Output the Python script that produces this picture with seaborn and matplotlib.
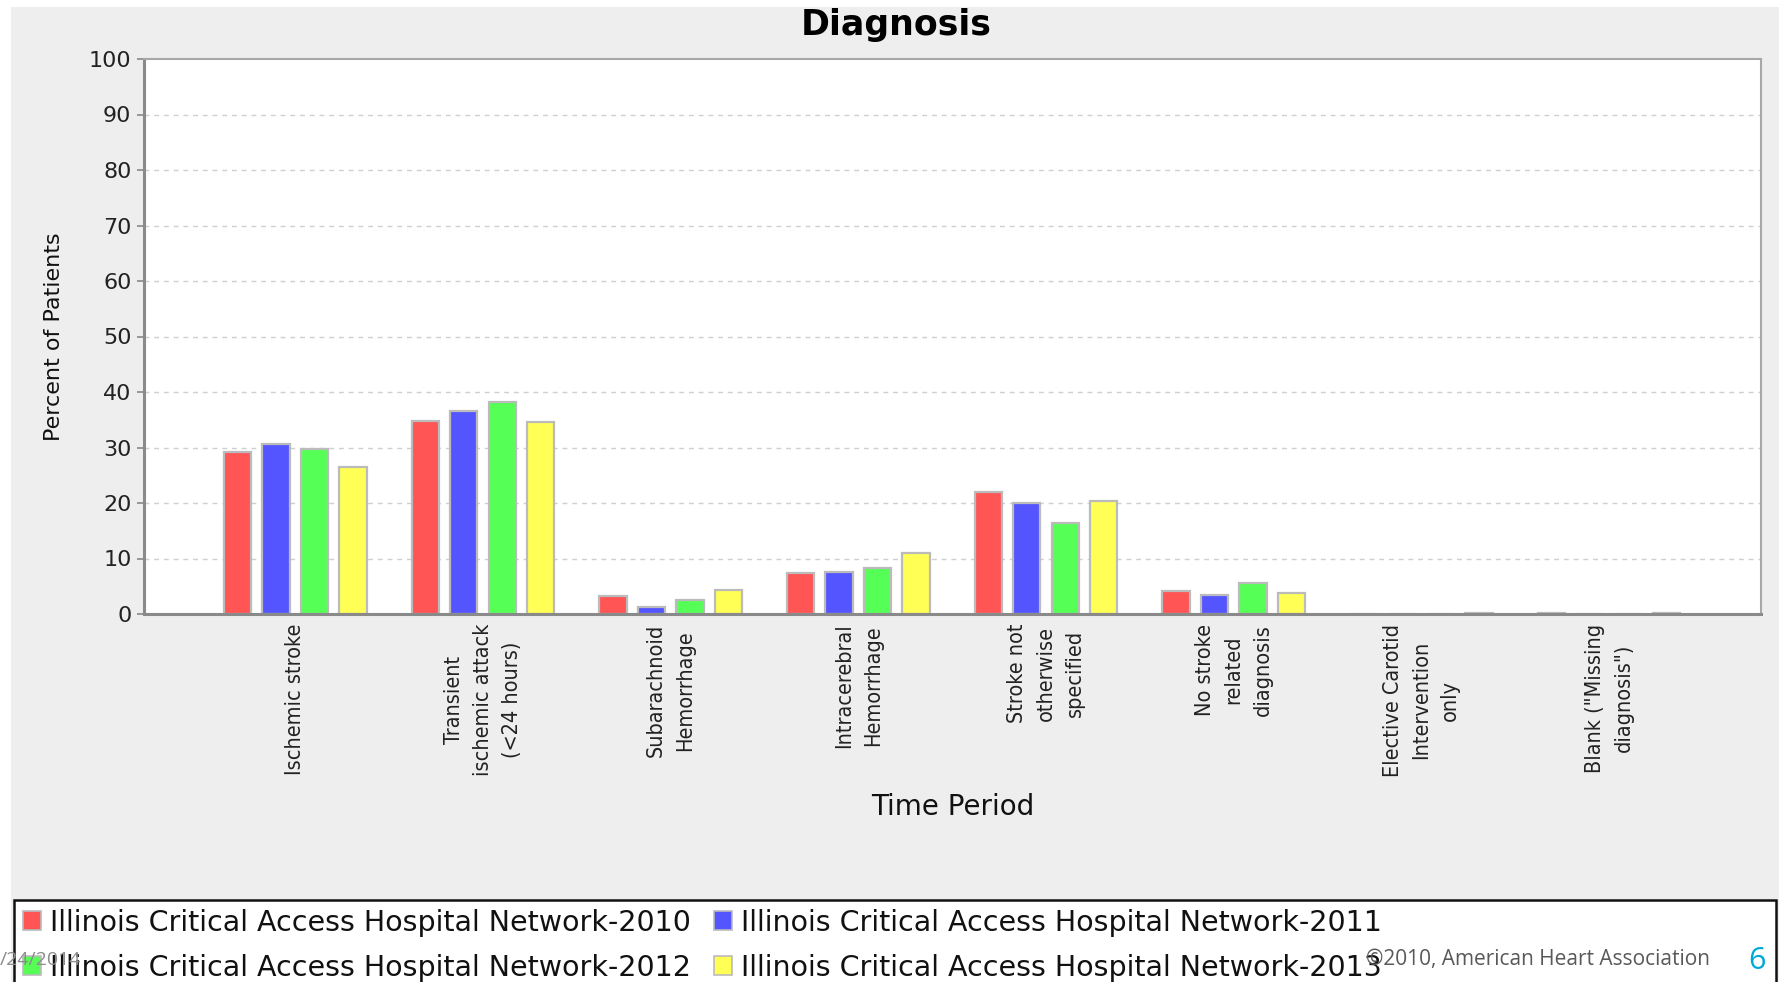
import matplotlib
matplotlib.use("Agg")
import matplotlib.pyplot as plt
from matplotlib.patches import Patch, Rectangle
from matplotlib import font_manager
import numpy as np
import pandas as pd
import seaborn as sns

# ---- data -------------------------------------------------------------
diagnoses = [
    "Ischemic stroke",
    "Transient\nischemic attack\n(<24 hours)",
    "Subarachnoid\nHemorrhage",
    "Intracerebral\nHemorrhage",
    "Stroke not\notherwise\nspecified",
    "No stroke\nrelated\ndiagnosis",
    "Elective Carotid\nIntervention\nonly",
    "Blank (\"Missing\ndiagnosis\")",
]
periods = [
    "Illinois Critical Access Hospital Network-2010",
    "Illinois Critical Access Hospital Network-2011",
    "Illinois Critical Access Hospital Network-2012",
    "Illinois Critical Access Hospital Network-2013",
]
pct_2010 = [29.2, 34.8, 3.3, 7.4, 21.9, 4.1, 0.0, 0.2]
pct_2011 = [30.7, 36.6, 1.2, 7.6, 20.0, 3.5, 0.0, 0.0]
pct_2012 = [29.7, 38.2, 2.5, 8.2, 16.4, 5.5, 0.0, 0.0]
pct_2013 = [26.4, 34.6, 4.3, 11.0, 20.4, 3.7, 0.2, 0.2]
y_ticks = list(range(0, 101, 10))

colors = ["#FF5555", "#5555FF", "#55FF55", "#FFFF55"]

rows = []
for period, vals in zip(periods, [pct_2010, pct_2011, pct_2012, pct_2013]):
    for d, v in zip(diagnoses, vals):
        rows.append({"diagnosis": d, "period": period, "percent": v})
df = pd.DataFrame(rows)

# ---- style ------------------------------------------------------------
sns.set_theme(style="white")
plt.rcParams["font.family"] = ["DejaVu Sans"]

# a narrower face for the category labels, if one is installed
tick_font = None
for fe in font_manager.fontManager.ttflist:
    fn = fe.fname.lower()
    if ("dejavusanscondensed.ttf" in fn) or ("liberationsansnarrow-regular" in fn):
        tick_font = fe.fname
        break

W, H = 1779, 982
fig = plt.figure(figsize=(W / 100, H / 100), dpi=100)
fig.patch.set_facecolor("white")
# light grey panel behind the chart
fig.patches.append(Rectangle((11 / W, 0), 1 - 11 / W, 1 - 7 / H,
                             transform=fig.transFigure, facecolor="#EEEEEE",
                             edgecolor="none", zorder=-10))

ax = fig.add_axes([144 / W, 1 - 614 / H, (1761 - 144) / W, (614 - 59) / H])
ax.set_facecolor("white")

sns.barplot(data=df, x="diagnosis", y="percent", hue="period",
            hue_order=periods, order=diagnoses, palette=colors,
            width=0.82, gap=0.29, edgecolor="#BBBBBB", linewidth=1.6,
            saturation=1, legend=False, ax=ax, zorder=3)

ax.set_ylim(0, 100)
ax.set_xlim(-0.806, 7.81)
ax.set_yticks(y_ticks)
ax.set_yticklabels([str(t) for t in y_ticks], fontsize=16, color="#222222")
ax.tick_params(axis="y", length=5, width=1.2, color="#888888", pad=4, left=True)
ax.tick_params(axis="x", length=0, pad=7)

for lbl in ax.get_xticklabels():
    lbl.set_rotation(90)
    lbl.set_multialignment("center")
    lbl.set_linespacing(1.55)
    lbl.set_color("#222222")
    if tick_font:
        lbl.set_fontproperties(font_manager.FontProperties(fname=tick_font, size=15.5))
    else:
        lbl.set_fontsize(14)

# dashed horizontal gridlines
for t in y_ticks[1:-1]:
    ax.axhline(t, color="#CFCFCF", linewidth=1.0, linestyle=(0, (3.5, 3.5)), zorder=1)

for side in ["top", "right"]:
    ax.spines[side].set_color("#A8A8A8")
    ax.spines[side].set_linewidth(1.5)
for side in ["left", "bottom"]:
    ax.spines[side].set_color("#8A8A8A")
    ax.spines[side].set_linewidth(2.2)
ax.spines["bottom"].set_zorder(5)

ax.set_xlabel("Time Period", fontsize=20, color="#111111")
ax.xaxis.set_label_coords(0.5, (614 - 807) / (614 - 59))
ax.xaxis.label.set_va("center")
ax.set_ylabel("Percent of Patients", fontsize=16, color="#111111")
ax.yaxis.set_label_coords((54 - 144) / (1761 - 144), 0.5)
ax.yaxis.label.set_va("center")

fig.text(896 / W, 1 - 25 / H, "Diagnosis", fontsize=25, fontweight="bold",
         ha="center", va="center", color="#000000")

# legend panel with its own frame
fig.patches.append(Rectangle((14 / W, -0.05), (1776 - 14) / W, 0.05 + 1 - 900 / H,
                             transform=fig.transFigure, facecolor="white",
                             edgecolor="#111111", linewidth=1.8, zorder=1))
# rows read 2010, 2011 / 2012, 2013 (legend fills column by column)
leg_order = [0, 2, 1, 3]
handles = [Patch(facecolor=colors[i], edgecolor="#BBBBBB", linewidth=1.2) for i in leg_order]
labels = [periods[i] for i in leg_order]
leg = fig.legend(handles, labels, ncol=2, loc="upper left",
                 bbox_to_anchor=(17 / W, 1 - 903 / H), frameon=False,
                 borderaxespad=0, fontsize=20.5, handlelength=0.65,
                 handleheight=0.65, handletextpad=0.3, columnspacing=0.8,
                 labelspacing=0.6, borderpad=0.2)
leg.set_zorder(5)
for t in leg.get_texts():
    t.set_color("#111111")

# slide footer, printed over the legend panel
fig.text(0, 1 - 960 / H, "/24/2014", fontsize=14, color="#8C8C8C",
         ha="left", va="center", family=["Open Sans", "DejaVu Sans"], zorder=20)
fig.text(1710 / W, 1 - 959 / H, "\u00a92010, American Heart Association",
         fontsize=15, color="#595959", ha="right", va="center",
         family=["Open Sans", "DejaVu Sans"], zorder=20)
fig.text(1757 / W, 1 - 961 / H, "6", fontsize=22, color="#00A8D8",
         ha="center", va="center", family=["Open Sans", "DejaVu Sans"], zorder=20)

fig.savefig("out.png", dpi=100, facecolor=fig.get_facecolor())
